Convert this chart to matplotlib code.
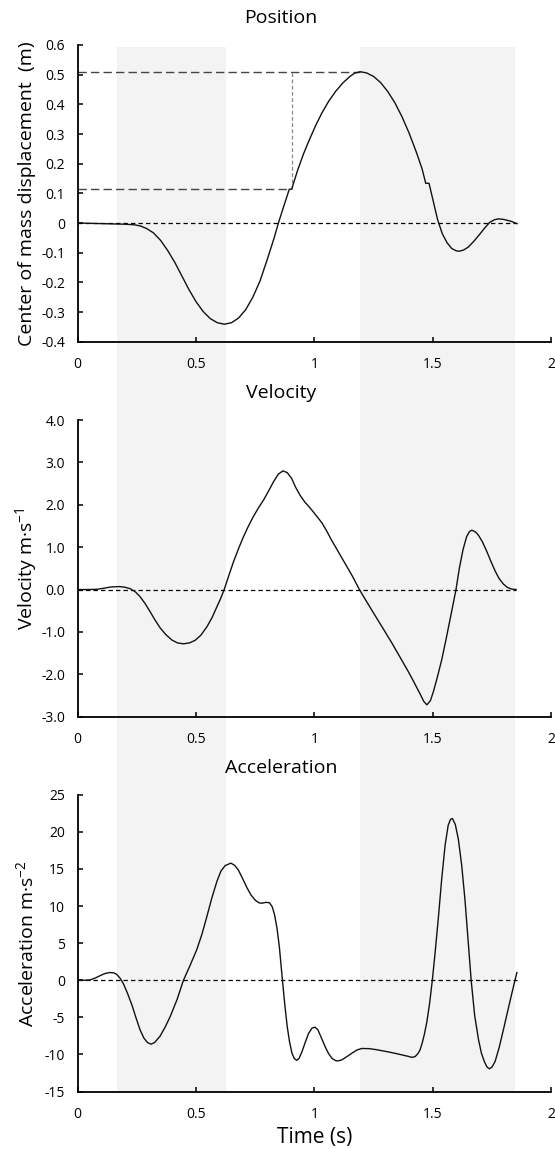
import numpy as np
import matplotlib
matplotlib.use('Agg')
import matplotlib.pyplot as plt
import matplotlib.transforms as mtransforms
from matplotlib.patches import Rectangle

plt.rcParams['font.family'] = ['Open Sans', 'DejaVu Sans']
plt.rcParams['axes.unicode_minus'] = False

# shaded phases (s)
band_start = [0.165, 1.193]
band_end = [0.628, 1.848]

# position (m)
t_pos = [0.0, 0.05, 0.10, 0.15, 0.20, 0.24, 0.265, 0.29, 0.32, 0.35,
         0.38, 0.41, 0.44, 0.47, 0.50, 0.53, 0.56, 0.59, 0.62, 0.65,
         0.68, 0.71, 0.74, 0.77, 0.80, 0.83, 0.848, 0.87, 0.894, 0.904,
         0.93, 0.955, 0.98, 1.005, 1.031, 1.06, 1.09, 1.12, 1.15, 1.17,
         1.193, 1.22, 1.25, 1.28, 1.31, 1.34, 1.37, 1.40, 1.43, 1.455,
         1.470, 1.484, 1.50, 1.52, 1.54, 1.56, 1.58, 1.60, 1.612, 1.63,
         1.65, 1.675, 1.70, 1.72, 1.74, 1.76, 1.777, 1.80, 1.83, 1.855]
pos = [0.0, -0.001, -0.002, -0.003, -0.004, -0.006, -0.010, -0.018, -0.033, -0.058,
       -0.092, -0.132, -0.178, -0.224, -0.265, -0.298, -0.322, -0.336, -0.341, -0.336,
       -0.320, -0.292, -0.250, -0.196, -0.125, -0.050, 0.0, 0.055, 0.114, 0.114,
       0.180, 0.235, 0.283, 0.328, 0.370, 0.410, 0.444, 0.472, 0.494, 0.505,
       0.510, 0.506, 0.494, 0.473, 0.443, 0.405, 0.358, 0.303, 0.240, 0.182,
       0.134, 0.134, 0.080, 0.012, -0.036, -0.066, -0.086, -0.094, -0.095, -0.091,
       -0.081, -0.060, -0.036, -0.016, 0.002, 0.011, 0.014, 0.012, 0.006, -0.002]

# velocity (m/s)
t_vel = [0.0, 0.04, 0.08, 0.11, 0.14, 0.175, 0.20, 0.222, 0.245, 0.264,
         0.285, 0.306, 0.327, 0.348, 0.372, 0.398, 0.422, 0.447, 0.472, 0.496,
         0.52, 0.546, 0.568, 0.588, 0.605, 0.619, 0.638, 0.658, 0.68, 0.70,
         0.72, 0.742, 0.763, 0.785, 0.806, 0.827, 0.847, 0.867, 0.885, 0.904,
         0.92, 0.94, 0.96, 0.975, 1.00, 1.031, 1.05, 1.073, 1.10, 1.129,
         1.16, 1.19, 1.22, 1.256, 1.29, 1.327, 1.36, 1.397, 1.42, 1.446,
         1.462, 1.475, 1.49, 1.503, 1.52, 1.538, 1.555, 1.573, 1.598, 1.612,
         1.628, 1.643, 1.655, 1.665, 1.68, 1.693, 1.71, 1.728, 1.745, 1.763,
         1.78, 1.798, 1.815, 1.834, 1.852]
vel = [0.0, 0.0, 0.005, 0.03, 0.06, 0.07, 0.055, 0.02, -0.06, -0.17,
       -0.33, -0.52, -0.72, -0.90, -1.06, -1.19, -1.26, -1.28, -1.26, -1.20,
       -1.08, -0.88, -0.66, -0.41, -0.20, 0.0, 0.32, 0.65, 0.97, 1.24,
       1.48, 1.72, 1.92, 2.11, 2.32, 2.54, 2.72, 2.80, 2.76, 2.62,
       2.42, 2.22, 2.06, 1.97, 1.80, 1.58, 1.40, 1.16, 0.90, 0.62,
       0.32, 0.0, -0.28, -0.61, -0.92, -1.26, -1.58, -1.94, -2.18, -2.46,
       -2.64, -2.72, -2.62, -2.40, -2.05, -1.65, -1.20, -0.70, 0.0, 0.50,
       0.95, 1.25, 1.37, 1.40, 1.36, 1.28, 1.12, 0.90, 0.67, 0.44,
       0.26, 0.13, 0.05, 0.01, 0.0]

# acceleration (m/s2)
t_acc = [0.0, 0.03, 0.053, 0.075, 0.095, 0.115, 0.137, 0.152, 0.165, 0.18,
         0.193, 0.21, 0.229, 0.247, 0.264, 0.28, 0.295, 0.310, 0.325, 0.348,
         0.37, 0.391, 0.42, 0.447, 0.475, 0.503, 0.525, 0.546, 0.567, 0.588,
         0.605, 0.623, 0.647, 0.663, 0.679, 0.697, 0.714, 0.732, 0.750, 0.765,
         0.778, 0.795, 0.810, 0.822, 0.832, 0.842, 0.852, 0.865, 0.875, 0.885,
         0.895, 0.905, 0.915, 0.925, 0.935, 0.948, 0.961, 0.975, 0.99, 1.003,
         1.015, 1.03, 1.045, 1.06, 1.075, 1.09, 1.101, 1.115, 1.13, 1.144,
         1.16, 1.18, 1.20, 1.23, 1.26, 1.285, 1.31, 1.34, 1.369, 1.395,
         1.412, 1.425, 1.437, 1.446, 1.455, 1.465, 1.475, 1.487, 1.498, 1.51,
         1.524, 1.538, 1.552, 1.565, 1.575, 1.583, 1.595, 1.608, 1.622, 1.636,
         1.649, 1.662, 1.677, 1.693, 1.705, 1.718, 1.729, 1.739, 1.750, 1.763,
         1.78, 1.798, 1.816, 1.834, 1.855]
acc = [0.0, 0.0, 0.05, 0.30, 0.62, 0.90, 1.04, 1.00, 0.80, 0.25,
       -0.45, -1.70, -3.30, -5.10, -6.70, -7.80, -8.40, -8.62, -8.40, -7.55,
       -6.30, -4.90, -2.60, 0.0, 2.00, 4.10, 6.20, 8.60, 11.10, 13.30,
       14.70, 15.45, 15.79, 15.50, 14.85, 13.70, 12.55, 11.50, 10.80, 10.45,
       10.38, 10.50, 10.45, 9.90, 8.80, 7.00, 4.50, 0.0, -3.30, -6.20,
       -8.30, -9.80, -10.55, -10.80, -10.55, -9.60, -8.40, -7.20, -6.45, -6.33,
       -6.70, -7.80, -8.93, -9.90, -10.55, -10.85, -10.87, -10.75, -10.45, -10.15,
       -9.80, -9.40, -9.20, -9.22, -9.35, -9.50, -9.65, -9.85, -10.06, -10.25,
       -10.40, -10.30, -9.90, -9.40, -8.50, -7.20, -5.60, -3.00, 0.0, 3.80,
       8.60, 13.80, 18.20, 20.90, 21.70, 21.80, 21.00, 19.00, 15.50, 10.80,
       5.40, 0.0, -4.80, -8.00, -9.80, -11.00, -11.70, -11.94, -11.70, -10.96,
       -9.10, -6.69, -4.20, -1.74, 1.04]

# reference lines on the position panel
peak_t, peak_y = 1.193, 0.510
low_t, low_y = 0.894, 0.114
mark_t = 0.905

x_ticks = [0, 0.5, 1, 1.5, 2]
x_labels = ['0', '0.5', '1', '1.5', '2']
pos_ticks = [-0.4, -0.3, -0.2, -0.1, 0, 0.1, 0.2, 0.3, 0.4, 0.5, 0.6]
pos_labels = ['-0.4', '-0.3', '-0.2', '-0.1', '0', '0.1', '0.2', '0.3', '0.4', '0.5', '0.6']
vel_ticks = [-3, -2, -1, 0, 1, 2, 3, 4]
vel_labels = ['-3.0', '-2.0', '-1.0', '0.0', '1.0', '2.0', '3.0', '4.0']
acc_ticks = [-15, -10, -5, 0, 5, 10, 15, 20, 25]
acc_labels = ['-15', '-10', '-5', '0', '5', '10', '15', '20', '25']

W, H = 555, 1149
fig = plt.figure(figsize=(W / 100, H / 100), dpi=100)

left = 77.6 / W
width = 473.6 / W
height = 296.7 / H
bottoms = [1 - 341.7 / H, 1 - 716.7 / H, 1 - 1091.5 / H]
axs = [fig.add_axes([left, b, width, height]) for b in bottoms]

panels = [
    (t_pos, pos, pos_ticks, pos_labels, 'Position', 'Center of mass displacement  (m)'),
    (t_vel, vel, vel_ticks, vel_labels, 'Velocity', r'Velocity m·s$^{\mathregular{-1}}$'),
    (t_acc, acc, acc_ticks, acc_labels, 'Acceleration', r'Acceleration m·s$^{\mathregular{-2}}$'),
]

for ax, (t, v, yt, yl, title, ylab), b in zip(axs, panels, bottoms):
    ax.set_facecolor('none')
    ax.plot(t, v, color='#111111', lw=1.0, zorder=3)
    ax.plot([0, t[-1]], [0, 0], color='black', lw=0.9, ls=(0, (3.5, 2.5)), zorder=2)
    ax.set_xlim(0, 2)
    ax.set_ylim(yt[0], yt[-1])
    ax.set_xticks(x_ticks)
    ax.set_xticklabels(x_labels)
    ax.set_yticks(yt)
    ax.set_yticklabels(yl)
    for s in ['top', 'right']:
        ax.spines[s].set_visible(False)
    for s in ['left', 'bottom']:
        ax.spines[s].set_linewidth(1.3)
    ax.tick_params(direction='in', length=3.5, width=1.1, labelsize=10,
                   colors='black', pad=9)
    ax.tick_params(axis='x', pad=11)
    yc = b + height / 2
    fig.text(0.049, yc, ylab, rotation=90, ha='center', va='center', fontsize=14)
    fig.text(0.506, b + height + 27 / H, title, ha='center', va='center', fontsize=14)

# dashed guide lines for the position panel
ax = axs[0]
ax.plot([0, peak_t], [peak_y, peak_y], color='#444444', lw=1.0, ls=(0, (6, 3)), zorder=2)
ax.plot([0, low_t], [low_y, low_y], color='#444444', lw=1.0, ls=(0, (6, 3)), zorder=2)
ax.plot([mark_t, mark_t], [low_y, peak_y], color='#888888', lw=0.9, ls=(0, (3, 2)), zorder=2)

# grey phase bands run through all three panels
trans = mtransforms.blended_transform_factory(axs[0].transData, fig.transFigure)
band_top = 1 - 47 / H
band_bot = bottoms[2]
for s, e in zip(band_start, band_end):
    fig.add_artist(Rectangle((s, band_bot), e - s, band_top - band_bot,
                             transform=trans, facecolor='#f3f3f3',
                             edgecolor='none', zorder=-1))

fig.text(315 / W, 1 - 1137 / H, 'Time (s)', ha='center', va='center', fontsize=15)

fig.savefig('out.png', dpi=100)
